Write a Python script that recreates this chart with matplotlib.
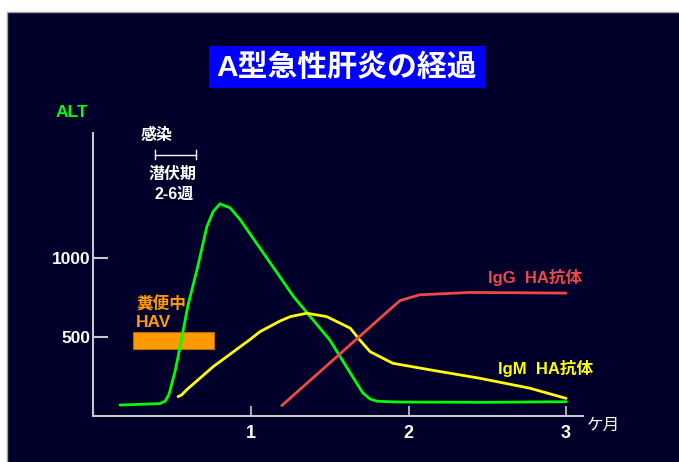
import matplotlib.pyplot as plt
from matplotlib.patches import Rectangle

plt.rcParams['font.family'] = ['Liberation Sans', 'Noto Sans CJK JP', 'DejaVu Sans']

# ALT (months, U/L)
alt_x = [0.168, 0.42, 0.455, 0.48, 0.52, 0.55, 0.60, 0.657, 0.72, 0.76, 0.803, 0.867,
         0.93, 1.152, 1.27, 1.50, 1.63, 1.71, 1.756, 1.80, 1.93, 2.5, 3.0]
alt_y = [71, 80, 95, 140, 292, 440, 700, 923, 1195, 1290, 1338, 1313,
         1240, 923, 754, 481, 273, 147, 109, 95, 90, 88, 92]

# IgM HA antibody
igm_x = [0.537, 0.56, 0.59, 0.76, 0.99, 1.057, 1.184, 1.25, 1.354, 1.48, 1.63,
         1.69, 1.756, 1.90, 2.14, 2.45, 2.77, 3.0]
igm_y = [124, 135, 166, 313, 481, 533, 600, 628, 649, 628, 555,
         481, 407, 334, 292, 240, 177, 113]

# IgG HA antibody
igg_x = [1.195, 1.85, 1.946, 2.07, 2.39, 3.0]
igg_y = [67, 645, 729, 765, 780, 776]

# HAV in stool (start, end, low, high)
hav_span = [0.249, 0.767]
hav_level = [426, 530]

# incubation period bar
incub_span = [0.39, 0.648]
incub_level = 1643

xticks = [1, 2, 3]
yticks = [500, 1000]

bg = '#00002A'
axis_col = '#C8C8D0'

fig = plt.figure(figsize=(6.79, 4.62), dpi=100)
fig.patch.set_facecolor('white')
fig.patches.append(Rectangle((0.0103, -0.01), 1.0, 0.9847, transform=fig.transFigure,
                             facecolor=bg, edgecolor='#A0A0A0', linewidth=1.0, zorder=-2))

# title
fig.patches.append(Rectangle((0.3078, 0.8089), 0.4065, 0.0922, transform=fig.transFigure,
                             facecolor='#0000FF', edgecolor='none', zorder=-1))
fig.text(0.511, 0.853, 'A型急性肝炎の経過', color='white', fontsize=21.5, fontweight='bold',
         ha='center', va='center', zorder=2)

ax = fig.add_axes([0.1377, 0.0989, 0.721, 0.6132])
ax.set_facecolor('none')
ax.set_xlim(0, 3.108)
ax.set_ylim(0, 1784)

ax.plot(alt_x, alt_y, color='#00FF00', lw=2.0, solid_capstyle='round')
ax.plot(igm_x, igm_y, color='#FFFF00', lw=2.0, solid_capstyle='round')
ax.plot(igg_x, igg_y, color='#F04848', lw=2.0, solid_capstyle='round')

ax.add_patch(Rectangle((hav_span[0], hav_level[0]), hav_span[1] - hav_span[0],
                       hav_level[1] - hav_level[0], facecolor='#FF9900',
                       edgecolor='#B86A00', linewidth=0.8, zorder=1))

# incubation bar with end caps
ax.plot(incub_span, [incub_level, incub_level], color='white', lw=1.0)
for xc in incub_span:
    ax.plot([xc, xc], [incub_level - 25, incub_level + 32], color='white', lw=1.0)

for s in ['top', 'right']:
    ax.spines[s].set_visible(False)
for s in ['left', 'bottom']:
    ax.spines[s].set_color(axis_col)
    ax.spines[s].set_linewidth(1.5)

ax.set_xticks(xticks)
ax.set_xticklabels([str(v) for v in xticks])
ax.set_yticks(yticks)
ax.set_yticklabels([str(v) for v in yticks])
ax.tick_params(axis='y', direction='in', length=11, width=1.5, color=axis_col,
               labelcolor='white', labelsize=12.5, pad=2)
ax.tick_params(axis='x', direction='in', length=7, width=1.2, color=axis_col,
               labelcolor='white', labelsize=13, pad=6)
for lab in ax.get_xticklabels() + ax.get_yticklabels():
    lab.set_fontweight('bold')

# annotations
ax.text(-0.135, 1912, 'ALT', color='#00FF00', fontsize=12.5, fontweight='bold',
        ha='center', va='center')
ax.text(0.40, 1770, '感染', color='white', fontsize=11.5, fontweight='bold',
        ha='center', va='center')
ax.text(0.50, 1525, '潜伏期', color='white', fontsize=11.5, fontweight='bold',
        ha='center', va='center')
ax.text(0.51, 1399, '2-6週', color='white', fontsize=11.5, fontweight='bold',
        ha='center', va='center')
ax.text(0.27, 704, '糞便中', color='#FF9900', fontsize=12, fontweight='bold',
        ha='left', va='center')
ax.text(0.27, 590, 'HAV', color='#FF9900', fontsize=12.5, fontweight='bold',
        ha='left', va='center')
ax.text(2.505, 876, 'IgG  HA抗体', color='#F04848', fontsize=12, fontweight='bold',
        ha='left', va='center')
ax.text(2.568, 302, 'IgM  HA抗体', color='#FFFF00', fontsize=12, fontweight='bold',
        ha='left', va='center')
ax.text(3.135, -59, 'ケ月', color='white', fontsize=12, ha='left', va='center')

fig.savefig('out.png', dpi=100, facecolor=fig.get_facecolor())
